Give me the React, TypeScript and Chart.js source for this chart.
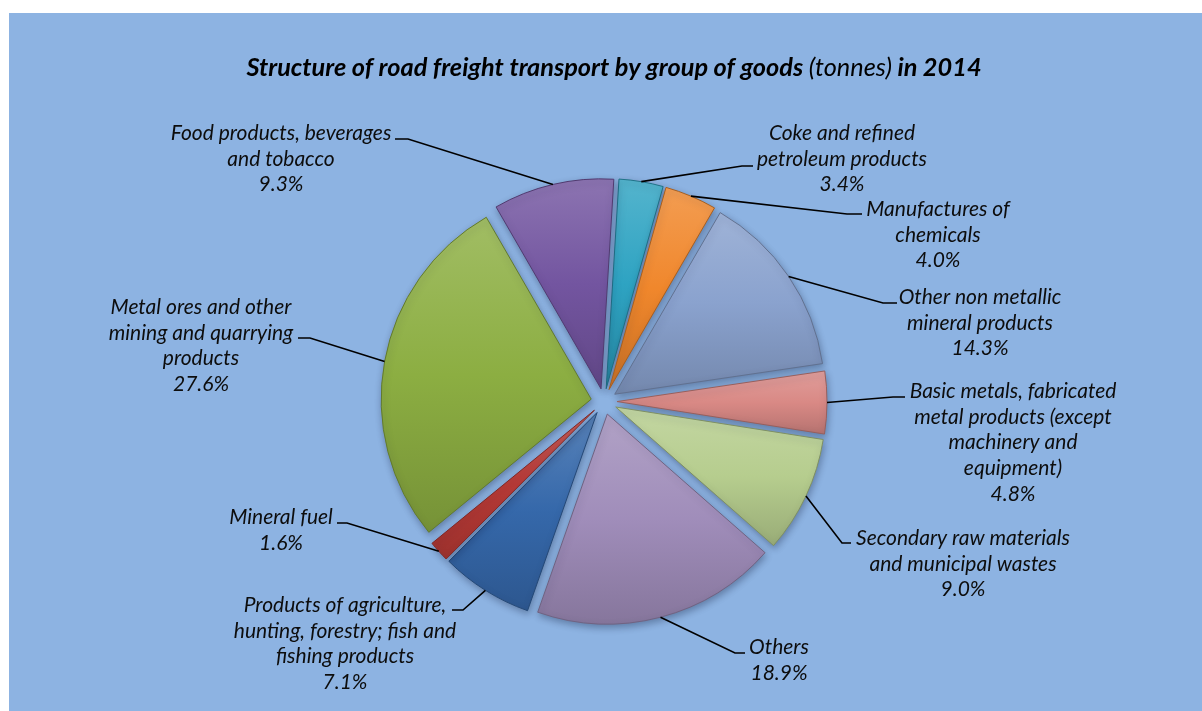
import React, { useEffect, useRef } from "react";
import { Chart, registerables } from "chart.js";

Chart.register(...registerables);

// ---- data ----
const categories: string[][] = [
  ["Coke and refined", "petroleum products"],
  ["Manufactures of", "chemicals"],
  ["Other non metallic", "mineral products"],
  ["Basic metals, fabricated", "metal products (except", "machinery and", "equipment)"],
  ["Secondary raw materials", "and municipal wastes"],
  ["Others"],
  ["Products of agriculture,", "hunting, forestry; fish and", "fishing products"],
  ["Mineral fuel"],
  ["Metal ores and other", "mining and quarrying", "products"],
  ["Food products, beverages", "and tobacco"],
];
const shares: number[] = [3.4, 4.0, 14.3, 4.8, 9.0, 18.9, 7.1, 1.6, 27.6, 9.3];
const sliceColors: string[] = [
  "#2EA3C2", "#F0872C", "#8AA2CE", "#D98985", "#B6CD8E",
  "#A08DBA", "#3568AA", "#B83A36", "#8CAE42", "#7355A0",
];

const titleMain = "Structure of road freight transport by group of goods";
const titleUnit = "(tonnes)";
const titleYear = "in 2014";

// ---- layout (label anchors & leader elbows) ----
const labelLayout = [
  { x: 842, y: 133, ex: 742, ey: 166, hx: 753 },
  { x: 938, y: 209, ex: 847, ey: 214, hx: 862 },
  { x: 980, y: 297, ex: 883, ey: 303, hx: 897 },
  { x: 1013, y: 391, ex: 893, ey: 397, hx: 905 },
  { x: 963, y: 538, ex: 842, ey: 543, hx: 851 },
  { x: 779, y: 647, ex: 735, ey: 653, hx: 745 },
  { x: 345, y: 605, ex: 463, ey: 610, hx: 452 },
  { x: 281, y: 517, ex: 347, ey: 523, hx: 337 },
  { x: 201, y: 307, ex: 310, ey: 338, hx: 298 },
  { x: 281, y: 133, ex: 408, ey: 139, hx: 395 },
];

const W = 1202;
const H = 711;
const EXPLODE = 13;
const RADIUS = 210;
const ROTATION = 3.5;
const LINE_H = 25.8;
const FONT = "Lato, 'Open Sans', sans-serif";

function shade(hex: string, amt: number): string {
  const n = parseInt(hex.slice(1), 16);
  let r = (n >> 16) & 255, g = (n >> 8) & 255, b = n & 255;
  if (amt >= 0) {
    r = r + (255 - r) * amt; g = g + (255 - g) * amt; b = b + (255 - b) * amt;
  } else {
    r = r * (1 + amt); g = g * (1 + amt); b = b * (1 + amt);
  }
  return `rgb(${Math.round(r)},${Math.round(g)},${Math.round(b)})`;
}

const backgroundPlugin = {
  id: "bgPanel",
  beforeDraw(chart: any) {
    const ctx = chart.ctx;
    ctx.save();
    ctx.fillStyle = "#ffffff";
    ctx.fillRect(0, 0, W, H);
    ctx.fillStyle = "#8DB3E2";
    ctx.fillRect(9, 13, W - 9, H - 13);
    ctx.restore();
  },
};

const explodePlugin = {
  id: "explode",
  afterDatasetsUpdate(chart: any) {
    const meta = chart.getDatasetMeta(0);
    meta.data.forEach((arc: any) => {
      const mid = (arc.startAngle + arc.endAngle) / 2;
      arc.x += Math.cos(mid) * EXPLODE;
      arc.y += Math.sin(mid) * EXPLODE;
    });
  },
  beforeDatasetsDraw(chart: any) {
    const ctx = chart.ctx;
    ctx.save();
    ctx.shadowColor = "rgba(20,30,60,0.35)";
    ctx.shadowBlur = 7;
    ctx.shadowOffsetX = 1;
    ctx.shadowOffsetY = 3;
  },
  afterDatasetsDraw(chart: any) {
    chart.ctx.restore();
  },
};

const labelPlugin = {
  id: "leaderLabels",
  afterDraw(chart: any) {
    const ctx = chart.ctx;
    const meta = chart.getDatasetMeta(0);
    ctx.save();
    // title
    const fBold = `italic bold 25.3px ${FONT}`;
    const fNorm = `italic 25.3px ${FONT}`;
    ctx.textBaseline = "middle";
    ctx.textAlign = "left";
    ctx.fillStyle = "#000000";
    ctx.font = fBold;
    const w1 = ctx.measureText(titleMain + " ").width;
    const w3 = ctx.measureText(" " + titleYear).width;
    ctx.font = fNorm;
    const w2 = ctx.measureText(titleUnit).width;
    let tx = 614 - (w1 + w2 + w3) / 2;
    const ty = 68;
    ctx.font = fBold;
    ctx.fillText(titleMain + " ", tx, ty);
    tx += w1;
    ctx.font = fNorm;
    ctx.fillText(titleUnit, tx, ty);
    tx += w2;
    ctx.font = fBold;
    ctx.fillText(" " + titleYear, tx, ty);

    // leader lines + labels
    meta.data.forEach((arc: any, i: number) => {
      const L = labelLayout[i];
      const mid = (arc.startAngle + arc.endAngle) / 2;
      const px = arc.x + Math.cos(mid) * arc.outerRadius;
      const py = arc.y + Math.sin(mid) * arc.outerRadius;
      ctx.strokeStyle = "#000000";
      ctx.lineWidth = 1.6;
      ctx.beginPath();
      ctx.moveTo(px, py);
      ctx.lineTo(L.ex, L.ey);
      ctx.lineTo(L.hx, L.ey);
      ctx.stroke();

      const lines = [...categories[i], shares[i].toFixed(1) + "%"];
      ctx.font = `italic 21px ${FONT}`;
      ctx.fillStyle = "#0d0d0d";
      ctx.textAlign = "center";
      ctx.textBaseline = "middle";
      lines.forEach((t, k) => ctx.fillText(t, L.x, L.y + k * LINE_H));
    });
    ctx.restore();
  },
};

function pieGradient(context: any) {
  const chart = context.chart;
  const area = chart.chartArea;
  const i = context.dataIndex;
  const base = sliceColors[i];
  if (!area) return base;
  const total = shares.reduce((a, b) => a + b, 0);
  let before = 0;
  for (let j = 0; j < i; j++) before += shares[j];
  const rot = (ROTATION * Math.PI) / 180 - Math.PI / 2;
  const a0 = rot + (before / total) * Math.PI * 2;
  const a1 = a0 + (shares[i] / total) * Math.PI * 2;
  const mid = (a0 + a1) / 2;
  const cx = (area.left + area.right) / 2 + Math.cos(mid) * EXPLODE;
  const cy = (area.top + area.bottom) / 2 + Math.sin(mid) * EXPLODE;
  let minY = cy, maxY = cy;
  for (let k = 0; k <= 40; k++) {
    const a = a0 + ((a1 - a0) * k) / 40;
    const y = cy + Math.sin(a) * RADIUS;
    minY = Math.min(minY, y);
    maxY = Math.max(maxY, y);
  }
  const g = chart.ctx.createLinearGradient(0, minY, 0, maxY);
  g.addColorStop(0, shade(base, 0.18));
  g.addColorStop(0.5, base);
  g.addColorStop(1, shade(base, -0.16));
  return g;
}

export default function App() {
  const ref = useRef<HTMLCanvasElement | null>(null);
  useEffect(() => {
    if (!ref.current) return;
    const chart = new Chart(ref.current, {
      type: "pie",
      data: {
        labels: categories,
        datasets: [
          {
            data: shares,
            backgroundColor: pieGradient,
            borderColor: sliceColors.map((c) => shade(c, -0.3)),
            borderWidth: 1,
          },
        ],
      },
      options: {
        responsive: false,
        animation: false,
        events: [],
        rotation: ROTATION,
        radius: RADIUS,
        layout: { padding: { left: 6, right: 0, top: 92, bottom: 0 } },
        plugins: {
          legend: { display: false },
          title: { display: false },
          tooltip: { enabled: false },
        },
      } as any,
      plugins: [backgroundPlugin, explodePlugin, labelPlugin],
    });
    return () => chart.destroy();
  }, []);
  return (
    <div style={{ position: "fixed", left: 0, top: 0, width: W, height: H }}>
      <canvas ref={ref} width={W} height={H} style={{ display: "block" }} />
    </div>
  );
}
